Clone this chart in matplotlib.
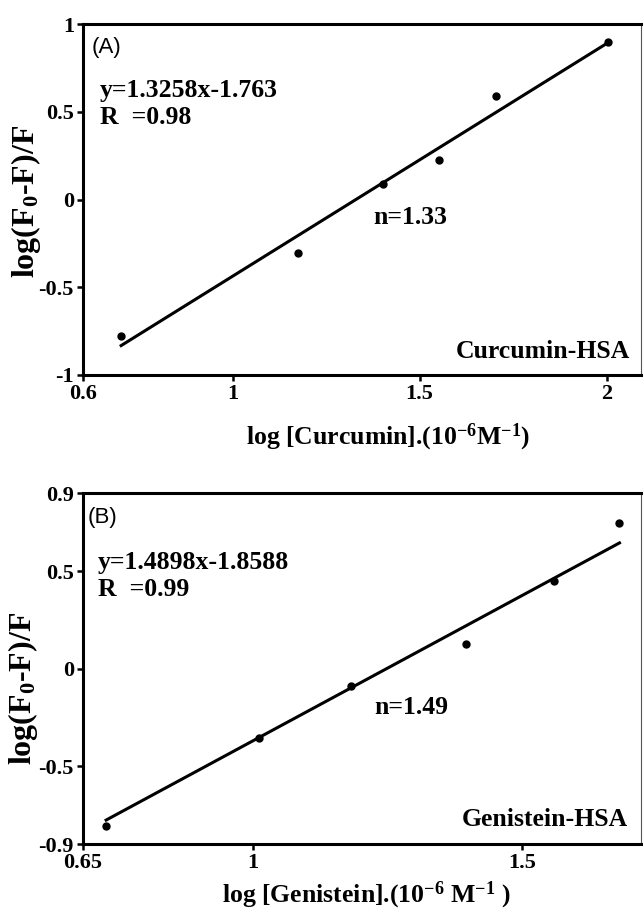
import matplotlib
matplotlib.use("Agg")
import matplotlib.pyplot as plt
import numpy as np

# ---- data ----
cur_x = [0.702, 1.176, 1.403, 1.553, 1.703, 2.004]
cur_y = [-0.778, -0.303, 0.088, 0.225, 0.588, 0.896]
cur_slope, cur_icpt = 1.3258, -1.763

gen_x = [0.727, 1.012, 1.182, 1.395, 1.560, 1.681]
gen_y = [-0.806, -0.356, -0.088, 0.126, 0.452, 0.746]
gen_slope, gen_icpt = 1.4898, -1.8588

cur_xticks = [0.6, 1.0, 1.5, 2.0]
cur_xticklabels = ["0.6", "1", "1.5", "2"]
cur_yticks = [-1, -0.5, 0, 0.5, 1]
cur_yticklabels = ["-1", "-0.5", "0", "0.5", "1"]

gen_xticks = [0.684, 1.0, 1.5]
gen_xticklabels = ["0.65", "1", "1.5"]
gen_yticks = [-0.9, -0.5, 0, 0.5, 0.9]
gen_yticklabels = ["-0.9", "-0.5", "0", "0.5", "0.9"]

plt.rcParams['font.family'] = ['Liberation Serif', 'DejaVu Serif']
plt.rcParams['font.weight'] = 'bold'
plt.rcParams['axes.unicode_minus'] = False
plt.rcParams['mathtext.fontset'] = 'custom'
plt.rcParams['mathtext.rm'] = 'Liberation Serif:bold'
plt.rcParams['mathtext.it'] = 'Liberation Serif:bold'
plt.rcParams['mathtext.bf'] = 'Liberation Serif:bold'
plt.rcParams['mathtext.default'] = 'rm'

fig = plt.figure(figsize=(6.43, 9.09), dpi=100)
axA = fig.add_axes([83/643, 1-375/909, 558/643, 351/909])
axB = fig.add_axes([83/643, 1-844.3/909, 558/643, 351/909])


def style(ax, xlim, ylim, xt, xtl, yt, ytl):
    ax.set_xlim(*xlim)
    ax.set_ylim(*ylim)
    ax.set_xticks(xt)
    ax.set_xticklabels(xtl)
    ax.set_yticks(yt)
    ax.set_yticklabels(ytl)
    for s in ['left', 'bottom', 'top']:
        ax.spines[s].set_linewidth(2.2)
        ax.spines[s].set_color('black')
    ax.spines['right'].set_linewidth(0.8)
    ax.spines['right'].set_color('#555555')
    ax.tick_params(direction='out', length=4, width=1.8, labelsize=16, pad=2.5)
    for lab in ax.get_xticklabels() + ax.get_yticklabels():
        lab.set_fontweight('bold')


def panel(ax, xs, ys, slope, icpt):
    ax.plot(xs, ys, 'o', color='black', markersize=5, zorder=3)
    lx = np.array([min(xs), max(xs)])
    ax.plot(lx, slope * lx + icpt, '-', color='black', linewidth=2.2)


panel(axA, cur_x, cur_y, cur_slope, cur_icpt)
style(axA, (0.6, 2.092), (-1, 1), cur_xticks, cur_xticklabels, cur_yticks, cur_yticklabels)
panel(axB, gen_x, gen_y, gen_slope, gen_icpt)
style(axB, (0.684, 1.721), (-0.9, 0.9), gen_xticks, gen_xticklabels, gen_yticks, gen_yticklabels)

def ftext(x, y, s, ha='left', size=17, family=None, weight='bold'):
    kw = {}
    if family:
        kw['family'] = family
    fig.text(x/643, 1-y/909, s, ha=ha, va='center', fontsize=size, fontweight=weight, **kw)

# Panel A annotations
ftext(92, 47, "(A)", size=16, family=['Liberation Sans', 'DejaVu Sans'], weight='normal')
ftext(100, 90, "y=1.3258x-1.763", size=18.5)
ftext(100, 118, "R  =0.98", size=18.5)
ftext(373, 218, "n=1.33", size=18.5)
ftext(630, 352, "Curcumin-HSA", ha='right', size=18.5)
ftext(388, 437, r"log [Curcumin].(10$^{-6}$M$^{-1}$)", ha='center', size=18.5)
fig.text(26/643, 1-201/909, r"log(F$_0$-F)/F", rotation=90, ha='center', va='center',
         fontsize=23, fontweight='bold')

# Panel B annotations
ftext(88, 518, "(B)", size=16, family=['Liberation Sans', 'DejaVu Sans'], weight='normal')
ftext(98, 562, "y=1.4898x-1.8588", size=18.5)
ftext(98, 590, "R  =0.99", size=18.5)
ftext(374, 707, "n=1.49", size=18.5)
ftext(628, 819, "Genistein-HSA", ha='right', size=18.5)
ftext(366, 895, r"log [Genistein].(10$^{-6}$ M$^{-1}$ )", ha='center', size=18.5)
fig.text(23/643, 1-688/909, r"log(F$_0$-F)/F", rotation=90, ha='center', va='center',
         fontsize=23, fontweight='bold')

fig.savefig("out.png", dpi=100)
